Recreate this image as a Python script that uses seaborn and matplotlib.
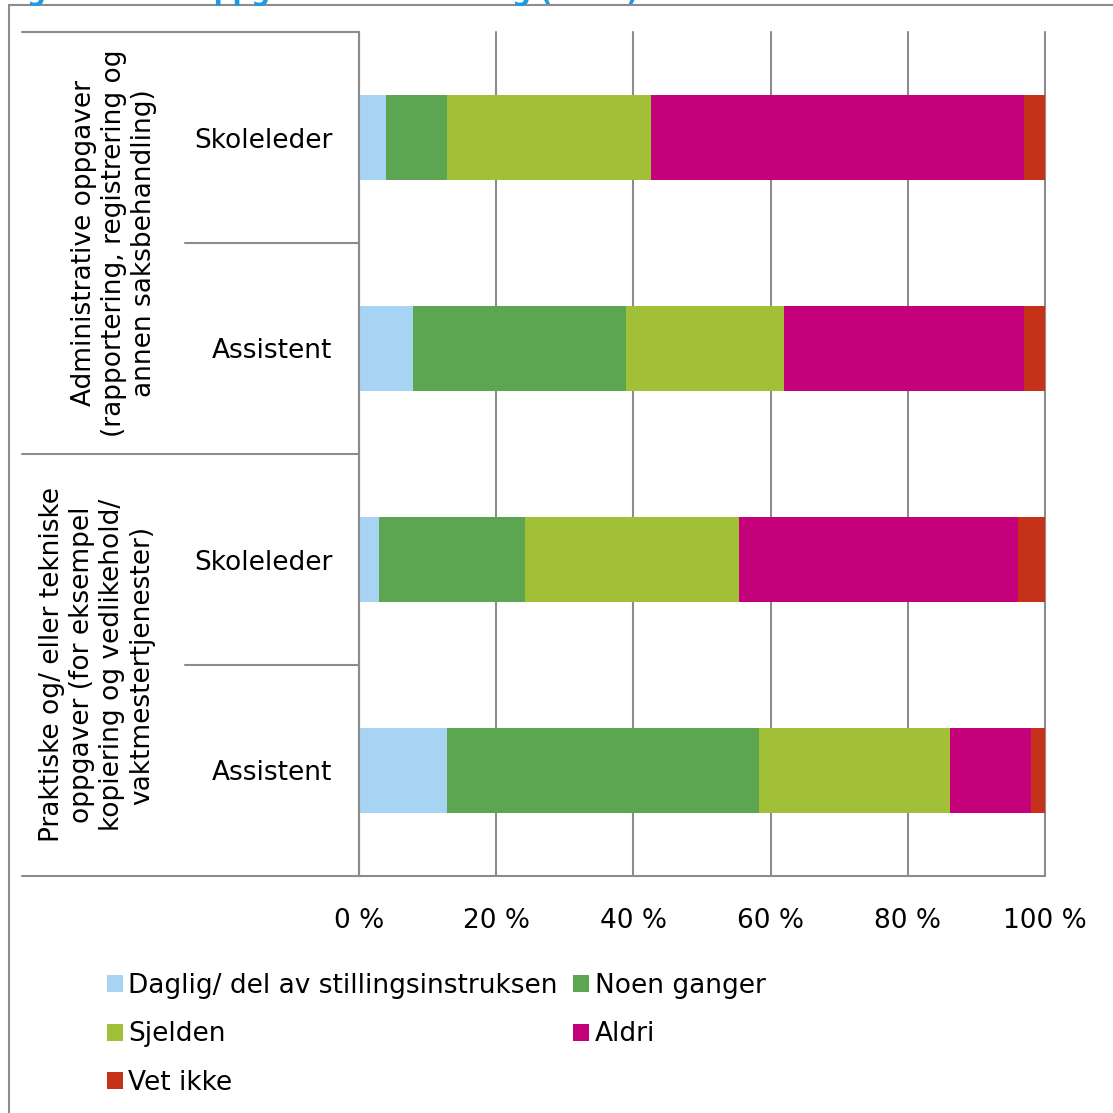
import matplotlib
matplotlib.use('Agg')
import matplotlib.pyplot as plt
import matplotlib.transforms as mtransforms
from matplotlib.patches import Patch, Rectangle
from matplotlib.lines import Line2D
import pandas as pd
import seaborn as sns

# data lest av figuren (prosent)
kategorier = ['Daglig/ del av stillingsinstruksen', 'Noen ganger', 'Sjelden', 'Aldri', 'Vet ikke']
farger = ['#A8D4F4', '#5DA651', '#A1BF37', '#C4007A', '#C63219']
rader = ['Skoleleder', 'Assistent', 'Skoleleder', 'Assistent']
grupper = ['Administrative oppgaver\n(rapportering, registrering og\nannen saksbehandling)',
           'Praktiske og/ eller tekniske\noppgaver (for eksempel\nkopiering og vedlikehold/\nvaktmestertjenester)']
daglig = [4.0, 7.9, 2.9, 12.9]
noen_ganger = [8.8, 31.0, 21.3, 45.4]
sjelden = [29.7, 23.1, 31.2, 27.8]
aldri = [54.5, 35.0, 40.7, 11.9]
vet_ikke = [3.0, 3.0, 3.9, 2.0]
x_ticks = [0, 20, 40, 60, 80, 100]

df = pd.DataFrame({'rad': ['r0', 'r1', 'r2', 'r3'],
                   kategorier[0]: daglig, kategorier[1]: noen_ganger,
                   kategorier[2]: sjelden, kategorier[3]: aldri, kategorier[4]: vet_ikke})
cum = df[kategorier].cumsum(axis=1)

sns.set_style('white')
plt.rcParams['font.family'] = ['DejaVu Sans']
plt.rcParams['text.color'] = 'black'
FS = 19
GRA = '#8c8c8c'

fig = plt.figure(figsize=(11.13, 11.13), dpi=100)
ax = fig.add_axes([359 / 1113, 1 - 876 / 1113, 686 / 1113, 844 / 1113])

# stablede stolper: tegn kumulative summer bakfra
for kat, farge in reversed(list(zip(kategorier, farger))):
    sns.barplot(x=cum[kat], y=df['rad'], orient='h', color=farge, saturation=1,
                width=0.4, ax=ax, linewidth=0)

ax.set_xlim(0, 100)
ax.set_ylim(3.5, -0.5)
ax.set_xticks(x_ticks)
ax.set_xticklabels([f'{v} %' for v in x_ticks], fontsize=FS)
ax.set_yticks(range(4))
ax.set_yticklabels(rader, fontsize=FS)
ax.set_xlabel('')
ax.set_ylabel('')
ax.grid(axis='x', color=GRA, lw=1.5)
for gl in ax.get_xgridlines():
    gl.set_clip_on(False)
ax.set_axisbelow(True)
ax.tick_params(axis='x', length=8, width=1.5, color=GRA, direction='out', pad=15,
               labelcolor='black')
ax.tick_params(axis='y', length=0, pad=19, labelcolor='black')
for s in ['top', 'right']:
    ax.spines[s].set_visible(False)
for s in ['left', 'bottom']:
    ax.spines[s].set_color(GRA)
    ax.spines[s].set_linewidth(1.5)

# kategori-rammer til venstre
trans = mtransforms.blended_transform_factory(ax.transAxes, ax.transData)
x_ytre = (22 - 359) / 686
x_indre = (185 - 359) / 686
for y, x0 in [(-0.5, x_ytre), (0.5, x_indre), (1.5, x_ytre), (2.5, x_indre), (3.5, x_ytre)]:
    ax.add_line(Line2D([x0, 0], [y, y], transform=trans, color=GRA, lw=1.5, clip_on=False))

ax.text((114 - 359) / 686, 0.5, grupper[0], transform=trans, rotation=90,
        ha='center', va='center', multialignment='center', fontsize=FS, color='black')
ax.text((97 - 359) / 686, 2.5, grupper[1], transform=trans, rotation=90,
        ha='center', va='center', multialignment='center', fontsize=FS, color='black')

# forklaring
handles = [Patch(facecolor=f, edgecolor='none') for f in farger]
rekkefolge = [0, 2, 4, 1, 3]
leg = fig.legend([handles[i] for i in rekkefolge], [kategorier[i] for i in rekkefolge],
                 ncol=2, loc='upper left', bbox_to_anchor=(107 / 1113, 1 - 973 / 1113),
                 frameon=False, fontsize=FS, handlelength=0.6, handleheight=0.6,
                 handletextpad=0.2, columnspacing=0.6, labelspacing=0.85,
                 borderpad=0, borderaxespad=0)
for t in leg.get_texts():
    t.set_color('black')

# tittel (avkuttet øverst, som i originalen) og ytre ramme
fig.text(0.0, 1.0, 'Figur: Andre oppgaver etter stilling (N=...)', color='#1E9BE0',
         fontsize=FS, fontweight='bold', ha='left', va='baseline')
fig.patches.append(Rectangle((9 / 1113, -0.1), 1.2, 1.1 - 5 / 1113, transform=fig.transFigure,
                             fill=False, edgecolor=GRA, lw=1.5))

fig.savefig('out.png', dpi=100)
